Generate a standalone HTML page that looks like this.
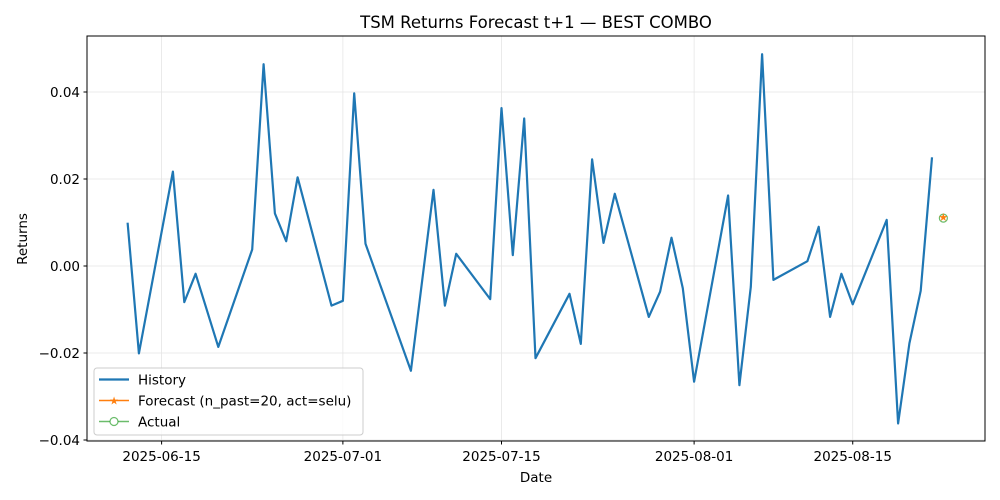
<!DOCTYPE html>
<html><head><meta charset="utf-8"><style>
body{margin:0;background:#fff}
svg{display:block;font-family:"DejaVu Sans","Liberation Sans",sans-serif}
</style></head><body>
<svg id="chart" width="1000" height="500" viewBox="0 0 1000 500">
<rect width="1000" height="500" fill="#fff"/>
<text x="536" y="28" font-size="16.5" text-anchor="middle" fill="#000">TSM Returns Forecast t+1 — BEST COMBO</text>
<g id="grid"></g>
<g id="series"></g>
<rect x="87" y="36" width="898" height="405" fill="none" stroke="#000" stroke-width="1"/>
<g id="xticks"></g>
<g id="yticks"></g>
<text x="536" y="482" font-size="13.5" text-anchor="middle">Date</text>
<text transform="translate(27,239) rotate(-90)" font-size="13.5" text-anchor="middle">Returns</text>
<g>
<rect x="94" y="368" width="269" height="67" rx="3" fill="#fff" fill-opacity="0.8" stroke="#ccc"/>
<g><line x1="99" y1="379.5" x2="129" y2="379.5" stroke="#1f77b4" stroke-width="2.2"/><text x="138" y="384.5" font-size="13.5">History</text></g>
<g><line x1="99" y1="400.5" x2="129" y2="400.5" stroke="#ff7f0e" stroke-width="1.6"/><text x="114" y="404.5" font-size="11" text-anchor="middle" fill="#ff7f0e">★</text><text x="138" y="405.5" font-size="13.5">Forecast (n_past=20, act=selu)</text></g>
<g><line x1="99" y1="421.5" x2="129" y2="421.5" stroke="#2ca02c" stroke-opacity="0.7" stroke-width="1.6"/><circle cx="114" cy="421.5" r="4" fill="#fff" stroke="#2ca02c" stroke-opacity="0.7" stroke-width="1.2"/><text x="138" y="426.5" font-size="13.5">Actual</text></g>
</g>
</svg>
<script>
// days offset from 2025-06-15
const histDays=[-3,-2,1,2,3,5,8,9,10,11,12,15,16,17,18,22,24,25,26,29,30,31,32,33,36,37,38,39,40,43,44,45,46,47,50,51,52,53,54,57,58,59,60,61,64,65,66,67,68];
const histValues=[0.00995,-0.0201,0.0217,-0.0083,-0.0018,-0.0186,0.0038,0.0464,0.0121,0.0057,0.0204,-0.0091,-0.0080,0.0397,0.0051,-0.0241,0.0175,-0.0091,0.0028,-0.0076,0.0363,0.0025,0.0339,-0.0212,-0.0064,-0.0179,0.0245,0.0053,0.0166,-0.0117,-0.0059,0.0065,-0.0051,-0.0266,0.0162,-0.0274,-0.0048,0.0487,-0.0032,0.0011,0.0090,-0.0117,-0.0018,-0.0088,0.0106,-0.0362,-0.0178,-0.0057,0.0250];
const forecastDay=[69];
const forecastValue=[0.0113];
const actualValue=[0.0110];
const xTickDays=[0,16,30,47,61];
const xTickLabels=["2025-06-15","2025-07-01","2025-07-15","2025-08-01","2025-08-15"];
const yTickValues=[-0.04,-0.02,0,0.02,0.04];
const yTickLabels=["−0.04","−0.02","0.00","0.02","0.04"];

const NS="http://www.w3.org/2000/svg";
const xs=d=>161.6+d*11.33;
const ys=v=>266-v*4350;
function mk(tag,attrs,parent){const e=document.createElementNS(NS,tag);for(const k in attrs)e.setAttribute(k,attrs[k]);document.getElementById(parent).appendChild(e);return e;}

xTickDays.forEach((d,i)=>{
  const x=xs(d);
  const g=mk('line',{x1:x,x2:x,y1:36,y2:441,stroke:'#e5e5e5','stroke-width':0.8},'grid');
  
  
  const t=mk('line',{x1:x,x2:x,y1:441,y2:444.5,stroke:'#000'},'xticks');
  
  
  const l=mk('text',{x:x,y:461,'font-size':13.5,'text-anchor':'middle'},'xticks');
  l.textContent=xTickLabels[i];
  
  
});
yTickValues.forEach((v,i)=>{
  const y=ys(v);
  const g=mk('line',{x1:87,x2:985,y1:y,y2:y,stroke:'#e5e5e5','stroke-width':0.8},'grid');
  
  
  const t=mk('line',{x1:83.5,x2:87,y1:y,y2:y,stroke:'#000'},'yticks');
  
  
  const l=mk('text',{x:80,y:y+5,'font-size':13.5,'text-anchor':'end'},'yticks');
  l.textContent=yTickLabels[i];
  
  
});
const pts=histDays.map((d,i)=>xs(d).toFixed(1)+','+ys(histValues[i]).toFixed(1)).join(' ');
const line=mk('polyline',{points:pts,fill:'none',stroke:'#1f77b4','stroke-width':2.2,'stroke-linejoin':'round'},'series');


const ac=mk('circle',{cx:xs(forecastDay[0]),cy:ys(actualValue[0]),r:4,fill:'#fff','fill-opacity':0.5,stroke:'#2ca02c','stroke-opacity':0.7,'stroke-width':1.2},'series');


const fc=mk('text',{x:xs(forecastDay[0]),y:ys(forecastValue[0])+4,'font-size':11,'text-anchor':'middle',fill:'#ff7f0e'},'series');
fc.textContent='★';


</script>
</body></html>
